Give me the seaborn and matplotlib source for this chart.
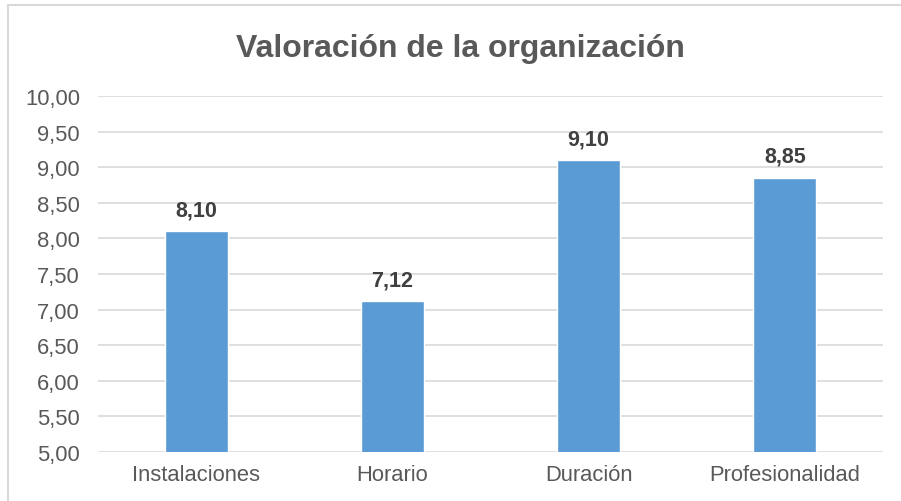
import matplotlib
matplotlib.use("Agg")
import matplotlib.pyplot as plt
from matplotlib.patches import Rectangle
from matplotlib.ticker import FuncFormatter, MultipleLocator
import seaborn as sns
import pandas as pd

# datos
categorias = ["Instalaciones", "Horario", "Duración", "Profesionalidad"]
valores = [8.10, 7.12, 9.10, 8.85]
titulo = "Valoración de la organización"

sns.set_theme(style="white")
plt.rcParams['font.family'] = ['Liberation Sans', 'DejaVu Sans']

df = pd.DataFrame({"categoria": categorias, "valor": valores})

fig = plt.figure(figsize=(9.01, 5.02), dpi=100)
ax = fig.add_axes([98 / 901, 1 - 453 / 502, (883 - 98) / 901, (453 - 97) / 502])

sns.barplot(data=df, x="categoria", y="valor", color="#5B9BD5", width=0.32,
            saturation=1, ax=ax, zorder=3)

ax.set_ylim(5, 10)
ax.yaxis.set_major_locator(MultipleLocator(0.5))
ax.yaxis.set_major_formatter(FuncFormatter(lambda v, p: f"{v:.2f}".replace(".", ",")))
ax.grid(axis="y", color="#D9D9D9", linewidth=1.2, zorder=0)
ax.set_axisbelow(True)
for s in ax.spines.values():
    s.set_visible(False)
ax.tick_params(axis="both", length=0, labelsize=15.8, labelcolor="#595959")
ax.tick_params(axis="y", pad=13)
ax.tick_params(axis="x", pad=9)
ax.set_xlabel("")
ax.set_ylabel("")

# etiquetas de valor
for i, v in enumerate(valores):
    ax.annotate(f"{v:.2f}".replace(".", ","), (i, v), xytext=(0, 11.5),
                textcoords="offset points", ha="center", va="baseline",
                fontsize=15.5, fontweight="bold", color="#404040")

fig.text(460 / 901, 1 - 57 / 502, titulo, ha="center", va="baseline",
         fontsize=23, fontweight="bold", color="#595959")

# borde del gráfico
fig.patches.append(Rectangle((8 / 901, -0.1), 2, 1 - 6 / 502 + 0.1,
                             transform=fig.transFigure, fill=False,
                             edgecolor="#D9D9D9", linewidth=1.5))

fig.savefig("out.png", dpi=100)
